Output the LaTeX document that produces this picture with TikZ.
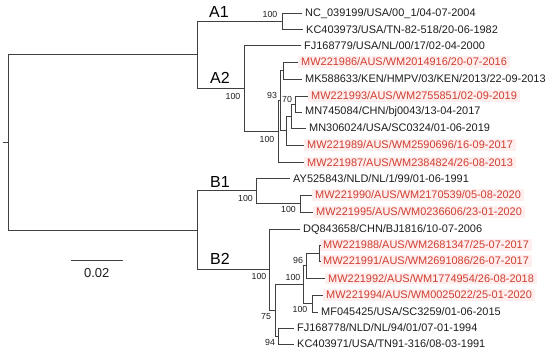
\documentclass[tikz,border=0pt]{standalone}
\usepackage{fontspec}
\setmainfont{Liberation Sans}
\definecolor{ln}{RGB}{64,64,64}
\definecolor{tx}{RGB}{30,30,30}
\definecolor{rd}{RGB}{208,62,48}
\definecolor{hl}{RGB}{254,238,238}
\begin{document}
\begin{tikzpicture}[x=1bp,y=-1bp,
  br/.style={draw=ln,line width=0.9bp},
  tip/.style={anchor=west,inner xsep=3bp,inner ysep=1.5bp,text=tx,font=\fontsize{10.95bp}{12bp}\selectfont},
  rtip/.style={tip,text=rd,fill=hl},
  bs/.style={font=\fontsize{8.8bp}{10bp}\selectfont,text=tx,inner sep=0pt},
  clade/.style={font=\fontsize{16bp}{18bp}\selectfont,text=black,inner sep=0pt}]
\fill[white] (0,0) rectangle (550,354);
\useasboundingbox (0,0) rectangle (550,354);
% internal nodes
\coordinate (rootstub) at (3,142.7);
\coordinate (root) at (8,142.7);
\coordinate (A) at (197,54.8);
\coordinate (A1) at (282,21.3);
\coordinate (A2) at (244,88.35);
\coordinate (P) at (278,131.4);
\coordinate (n93) at (280,100.5);
\coordinate (nA) at (283,70.5);
\coordinate (X) at (286,130.5);
\coordinate (n70) at (291,116);
\coordinate (nB) at (295,104);
\coordinate (B) at (197,230.35);
\coordinate (B1) at (256,190.9);
\coordinate (nC) at (300,203.5);
\coordinate (B2) at (269,269.8);
\coordinate (n75) at (275.3,310.3);
\coordinate (n100b) at (303,284.6);
\coordinate (n96) at (306,265.7);
\coordinate (nD) at (319.5,253);
\coordinate (n100c) at (312,303.5);
\coordinate (n94) at (278.5,336);
% tips
\node[tip] (tNC) at (302,13.3) {NC\_039199/USA/00\_1/04-07-2004};
\node[tip] (tKC1) at (303,29.3) {KC403973/USA/TN-82-518/20-06-1982};
\node[tip] (tFJ1) at (301,45.3) {FJ168779/USA/NL/00/17/02-04-2000};
\node[rtip] (t86) at (298,62) {MW221986/AUS/WM2014916/20-07-2016};
\node[tip] (tMK) at (302,79) {MK588633/KEN/HMPV/03/KEN/2013/22-09-2013};
\node[rtip] (t93) at (308,96) {MW221993/AUS/WM2755851/02-09-2019};
\node[tip] (tMN74) at (302,112) {MN745084/CHN/bj0043/13-04-2017};
\node[tip] (tMN30) at (306,128) {MN306024/USA/SC0324/01-06-2019};
\node[rtip] (t89) at (304,145) {MW221989/AUS/WM2590696/16-09-2017};
\node[rtip] (t87) at (304,162.3) {MW221987/AUS/WM2384824/26-08-2013};
\node[tip] (tAY) at (290,178.3) {AY525843/NLD/NL/1/99/01-06-1991};
\node[rtip] (t90) at (312,195) {MW221990/AUS/WM2170539/05-08-2020};
\node[rtip] (t95) at (313,212) {MW221995/AUS/WM0236606/23-01-2020};
\node[tip] (tDQ) at (300,229.3) {DQ843658/CHN/BJ1816/10-07-2006};
\node[rtip] (t88) at (320,245) {MW221988/AUS/WM2681347/25-07-2017};
\node[rtip] (t91) at (320,261) {MW221991/AUS/WM2691086/26-07-2017};
\node[rtip] (t92) at (325,278.3) {MW221992/AUS/WM1774954/26-08-2018};
\node[rtip] (t94) at (323,295) {MW221994/AUS/WM0025022/25-01-2020};
\node[tip] (tMF) at (318,312) {MF045425/USA/SC3259/01-06-2015};
\node[tip] (tFJ2) at (294,328) {FJ168778/NLD/NL/94/01/07-01-1994};
\node[tip] (tKC2) at (294,344) {KC403971/USA/TN91-316/08-03-1991};
% branches
\draw[br] (rootstub) -- (root);
\draw[br] (root) |- (A);
\draw[br] (root) |- (B);
\draw[br] (A) |- (A1);
\draw[br] (A) |- (A2);
\draw[br] (A1) |- (tNC.west);
\draw[br] (A1) |- (tKC1.west);
\draw[br] (A2) |- (tFJ1.west);
\draw[br] (A2) |- (P);
\draw[br] (P) |- (n93);
\draw[br] (P) |- (t87.west);
\draw[br] (n93) |- (nA);
\draw[br] (n93) |- (X);
\draw[br] (nA) |- (t86.west);
\draw[br] (nA) |- (tMK.west);
\draw[br] (X) |- (n70);
\draw[br] (X) |- (t89.west);
\draw[br] (n70) |- (nB);
\draw[br] (n70) |- (tMN30.west);
\draw[br] (nB) |- (t93.west);
\draw[br] (nB) |- (tMN74.west);
\draw[br] (B) |- (B1);
\draw[br] (B) |- (B2);
\draw[br] (B1) |- (tAY.west);
\draw[br] (B1) |- (nC);
\draw[br] (nC) |- (t90.west);
\draw[br] (nC) |- (t95.west);
\draw[br] (B2) |- (tDQ.west);
\draw[br] (B2) |- (n75);
\draw[br] (n75) |- (n100b);
\draw[br] (n75) |- (n94);
\draw[br] (n100b) |- (n96);
\draw[br] (n100b) |- (n100c);
\draw[br] (n96) |- (nD);
\draw[br] (n96) |- (t92.west);
\draw[br] (nD) |- (t88.west);
\draw[br] (nD) |- (t91.west);
\draw[br] (n100c) |- (t94.west);
\draw[br] (n100c) |- (tMF.west);
\draw[br] (n94) |- (tFJ2.west);
\draw[br] (n94) |- (tKC2.west);
% bootstrap values
\node[bs] (bA1) at (270,14) {100};
\node[bs] (bA2) at (233,96) {100};
\node[bs] (bP) at (267,139) {100};
\node[bs] (b93) at (272,95) {93};
\node[bs] (b70) at (287,99.5) {70};
\node[bs] (bB1) at (245.5,198) {100};
\node[bs] (bC) at (288.5,209) {100};
\node[bs] (bB2) at (259,276.7) {100};
\node[bs] (b100b) at (293,277) {100};
\node[bs] (b96) at (298,260) {96};
\node[bs] (b100c) at (300,309) {100};
\node[bs] (b75) at (266,316.7) {75};
\node[bs] (b94) at (270,342.7) {94};
% clade labels
\node[clade] (lA1) at (219,11.7) {A1};
\node[clade] (lA2) at (220,78) {A2};
\node[clade] (lB1) at (220,181.7) {B1};
\node[clade] (lB2) at (220,259.3) {B2};
% scale bar
\coordinate (s1) at (71,260);
\coordinate (s2) at (122.7,260);
\draw[br] (s1) -- (s2);
\node[font=\fontsize{13bp}{15bp}\selectfont,text=tx,inner sep=0pt] (sl) at (96.7,272.7) {0.02};
\end{tikzpicture}
\end{document}
